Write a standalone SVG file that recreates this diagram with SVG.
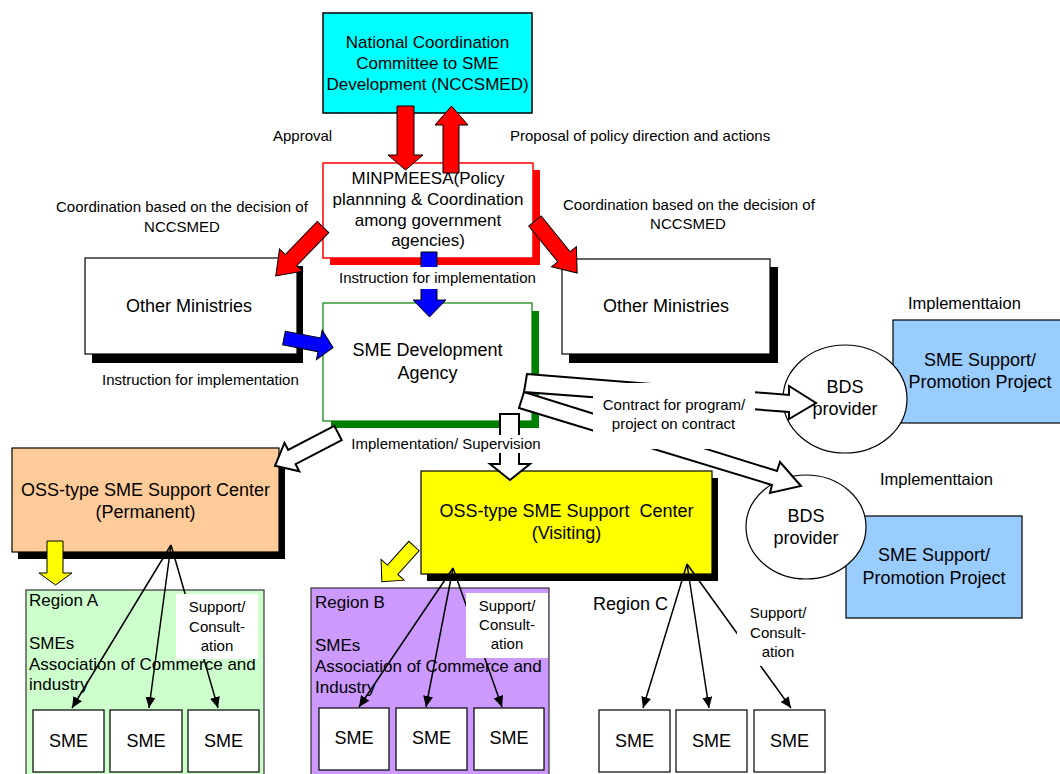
<svg xmlns="http://www.w3.org/2000/svg" width="1060" height="774" viewBox="0 0 1060 774">
<defs>
<style>
text{font-family:"Liberation Sans",Arial,sans-serif;fill:#000}
.n17{font-size:17px}
.n18{font-size:18px}
.s15{font-size:15px}
.s16{font-size:16.5px}
.c{text-anchor:middle}
.box{stroke:#000;stroke-width:1.2}
.line{stroke:#000;stroke-width:1.5;fill:none;marker-end:url(#ah)}
.hollow{fill:#fff;stroke:#000;stroke-width:2}
.blk{stroke:#000;stroke-width:1}
.bg{fill:#fff}
</style>
<marker id="ah" markerUnits="userSpaceOnUse" markerWidth="12" markerHeight="10" refX="11" refY="5" orient="auto"><path d="M0,0 L11,5 L0,10 z" fill="#000"/></marker>
</defs>
<rect x="0" y="0" width="1060" height="774" fill="#fff"/>

<g id="nccsmed">
<rect x="323" y="13" width="209" height="100" fill="#00FFFF" stroke="#000" stroke-width="1.5"/>
<text class="n17 c" x="427.5" y="48">National Coordination</text>
<text class="n17 c" x="427.5" y="69">Committee to SME</text>
<text class="n17 c" x="427.5" y="90">Development (NCCSMED)</text>
</g>

<g id="minpmeesa">
<rect x="330" y="170" width="210" height="95" fill="#FF0000"/>
<rect x="323" y="163" width="210" height="95" fill="#fff" stroke="#FF0000" stroke-width="1.5"/>
<text class="n17 c" x="428" y="184">MINPMEESA(Policy</text>
<text class="n17 c" x="428" y="205">plannning &amp; Coordination</text>
<text class="n17 c" x="428" y="226">among government</text>
<text class="n17 c" x="428" y="246">agencies)</text>
</g>

<g id="other-ministries-left">
<rect x="92" y="266" width="211" height="97" fill="#000"/>
<rect x="85" y="258" width="212" height="96" fill="#fff" class="box"/>
<text class="n18 c" x="189" y="312">Other Ministries</text>
</g>

<g id="other-ministries-right">
<rect x="569" y="267" width="209" height="96" fill="#000"/>
<rect x="562" y="259" width="208" height="95" fill="#fff" class="box"/>
<text class="n18 c" x="666" y="312">Other Ministries</text>
</g>

<g id="sme-development-agency">
<rect x="331" y="311" width="208" height="117" fill="#008000"/>
<rect x="323" y="303" width="209" height="118" fill="#fff" stroke="#008000" stroke-width="1.2"/>
<text class="n18 c" x="427.5" y="356">SME Development</text>
<text class="n18 c" x="427.5" y="379">Agency</text>
</g>

<g id="oss-permanent">
<rect x="18" y="455" width="267" height="104" fill="#000"/>
<rect x="12" y="448" width="267" height="104" fill="#FFCC99" class="box"/>
<text class="n18 c" x="145.5" y="496">OSS-type SME Support Center</text>
<text class="n18 c" x="145.5" y="518">(Permanent)</text>
</g>

<g id="oss-visiting">
<rect x="427" y="478" width="291" height="103" fill="#000"/>
<rect x="421" y="471" width="291" height="103" fill="#FFFF00" class="box"/>
<text class="n18 c" x="566.5" y="517" style="white-space:pre" xml:space="preserve">OSS-type SME Support  Center</text>
<text class="n18 c" x="566.5" y="539">(Visiting)</text>
</g>

<g id="region-a">
<rect x="26" y="590" width="238" height="190" fill="#CCFFCC" stroke="#333" stroke-width="1.2"/>
<text class="n17" x="29" y="606">Region A</text>
<text class="n17" x="29" y="649">SMEs</text>
<text class="n17" x="29" y="670">Association of Commerce and</text>
<text class="n17" x="29" y="690">industry</text>
</g>

<g id="region-b">
<rect x="311" y="588" width="238" height="192" fill="#CC99FF" stroke="#333" stroke-width="1.2"/>
<text class="n17" x="315" y="608">Region B</text>
<text class="n17" x="315" y="651">SMEs</text>
<text class="n17" x="315" y="672">Association of Commerce and</text>
<text class="n17" x="315" y="693">Industry</text>
</g>

<g id="region-c">
<text class="n18" x="593" y="610">Region C</text>
</g>

<g id="sme-a1"><rect x="33" y="710" width="71" height="62" fill="#fff" class="box"/><text class="n18 c" x="68.5" y="747">SME</text></g>
<g id="sme-a2"><rect x="110" y="710" width="72" height="62" fill="#fff" class="box"/><text class="n18 c" x="146" y="747">SME</text></g>
<g id="sme-a3"><rect x="188" y="710" width="71" height="62" fill="#fff" class="box"/><text class="n18 c" x="223.5" y="747">SME</text></g>
<g id="sme-b1"><rect x="319" y="708" width="70" height="62" fill="#fff" class="box"/><text class="n18 c" x="354" y="744">SME</text></g>
<g id="sme-b2"><rect x="396" y="708" width="71" height="62" fill="#fff" class="box"/><text class="n18 c" x="431.5" y="744">SME</text></g>
<g id="sme-b3"><rect x="474" y="708" width="70" height="62" fill="#fff" class="box"/><text class="n18 c" x="509" y="744">SME</text></g>
<g id="sme-c1"><rect x="599" y="710" width="71" height="62" fill="#fff" class="box"/><text class="n18 c" x="634.5" y="747">SME</text></g>
<g id="sme-c2"><rect x="676" y="710" width="71" height="62" fill="#fff" class="box"/><text class="n18 c" x="711.5" y="747">SME</text></g>
<g id="sme-c3"><rect x="754" y="710" width="71" height="62" fill="#fff" class="box"/><text class="n18 c" x="789.5" y="747">SME</text></g>

<g id="sme-support-1">
<rect x="893" y="320" width="170" height="103" fill="#99CCFF" class="box"/>
<text class="n18 c" x="980" y="366">SME Support/</text>
<text class="n18 c" x="980" y="388">Promotion Project</text>
</g>
<g id="bds-1">
<ellipse cx="845" cy="399" rx="62" ry="54" fill="#fff" class="box"/>
<text class="n18 c" x="845" y="393">BDS</text>
<text class="n18 c" x="845" y="415">provider</text>
</g>

<g id="sme-support-2">
<rect x="846" y="516" width="176" height="102" fill="#99CCFF" class="box"/>
<text class="n18 c" x="934" y="561">SME Support/</text>
<text class="n18 c" x="934" y="584">Promotion Project</text>
</g>
<g id="bds-2">
<ellipse cx="806" cy="527" rx="60" ry="52" fill="#fff" class="box"/>
<text class="n18 c" x="806" y="522">BDS</text>
<text class="n18 c" x="806" y="544">provider</text>
</g>

<g id="connectors">
<!-- NCCSMED <-> MINPMEESA -->
<polygon class="blk" fill="#FF0000" points="397,106 414,106 414,155 423,155 405.5,170 388,155 397,155"/>
<polygon class="blk" fill="#FF0000" points="443,173 459,173 459,125 468,125 451.5,106 435,125 443,125"/>
<text class="s15" x="273" y="141">Approval</text>
<text class="s15" x="510" y="141">Proposal of policy direction and actions</text>

<!-- MINPMEESA -> Other Ministries -->
<polygon class="blk" fill="#FF0000" transform="translate(323,227) rotate(134)" points="0,-8 46,-8 46,-16 68,0 46,16 46,8 0,8"/>
<polygon class="blk" fill="#FF0000" transform="translate(535,221) rotate(51)" points="0,-8 46,-8 46,-16 67,0 46,16 46,8 0,8"/>
<text class="s15" x="56" y="212">Coordination based on the decision of</text>
<text class="s15 c" x="182" y="232">NCCSMED</text>
<text class="s15" x="563" y="210">Coordination based on the decision of</text>
<text class="s15 c" x="688" y="229">NCCSMED</text>

<!-- MINPMEESA -> SME Dev Agency -->
<polygon class="blk" fill="#0000FF" points="421,252 437,252 437,300 446,300 429.5,317 413,300 421,300"/>
<rect class="bg" x="337" y="267" width="202" height="22"/>
<text class="s15 c" x="437.5" y="283">Instruction for implementation</text>

<!-- Other Ministries -> SME Dev Agency -->
<polygon class="blk" fill="#0000FF" transform="translate(284,338) rotate(11)" points="0,-7 36,-7 36,-15 50,0 36,15 36,7 0,7"/>
<text class="s15" x="102" y="385">Instruction for implementation</text>

<!-- SME Dev -> OSS Visiting -->
<polygon class="hollow" points="500,414 519,414 519,464 530,464 510,480 490,464 500,464"/>
<rect class="bg" x="350" y="435" width="192" height="18"/>
<text class="s15 c" x="446" y="449">Implementation/ Supervision</text>

<!-- SME Dev -> OSS Permanent -->
<polygon class="hollow" transform="translate(338,433) rotate(152.5)" points="0,-8 52,-8 52,-16 71,0 52,16 52,8 0,8"/>

<!-- SME Dev -> BDS providers -->
<polygon class="hollow" points="524,392 777,471 780,462 801,486 770,493 772,485 519,408"/>
<polygon class="hollow" points="527,374 789,395 789,386 816,403 789,419 789,412 524,392"/>
<rect class="bg" x="593" y="383" width="162" height="66"/>
<text class="s15 c" x="674" y="410">Contract for program/</text>
<text class="s15 c" x="673.5" y="429">project on contract</text>

<!-- OSS -> Regions -->
<polygon class="blk" fill="#FFFF00" points="47,541 63,541 63,573 72,573 55.5,585 39,573 47,573"/>
<polygon class="blk" fill="#FFFF00" transform="translate(414,546) rotate(132)" points="0,-7 32,-7 32,-15.5 48,0 32,15.5 32,7 0,7"/>

<!-- Region A -->
<path class="line" d="M171,545 L72,708"/>
<path class="line" d="M171,545 L149,708"/>
<path class="line" d="M171,545 L218,708"/>
<rect class="bg" x="176" y="594" width="82" height="65"/>
<text class="s15 c" x="217" y="612">Support/</text>
<text class="s15 c" x="217" y="632">Consult-</text>
<text class="s15 c" x="217" y="651">ation</text>

<!-- Region B -->
<path class="line" d="M453,568 L359,707"/>
<path class="line" d="M453,568 L426,707"/>
<path class="line" d="M453,568 L502,707"/>
<rect class="bg" x="466" y="593" width="82" height="65"/>
<text class="s15 c" x="507" y="611">Support/</text>
<text class="s15 c" x="507" y="630">Consult-</text>
<text class="s15 c" x="507" y="649">ation</text>

<!-- Region C -->
<path class="line" d="M687,564 L643,708"/>
<path class="line" d="M687,564 L709,708"/>
<path class="line" d="M687,564 L791,708"/>
<rect class="bg" x="737" y="601" width="80" height="65"/>
<text class="s15 c" x="778" y="618">Support/</text>
<text class="s15 c" x="778" y="638">Consult-</text>
<text class="s15 c" x="778" y="657">ation</text>

<!-- BDS -> projects -->
<text class="s16" x="908" y="309">Implementtaion</text>
<text class="s16" x="880" y="485">Implementtaion</text>
</g>
</svg>
